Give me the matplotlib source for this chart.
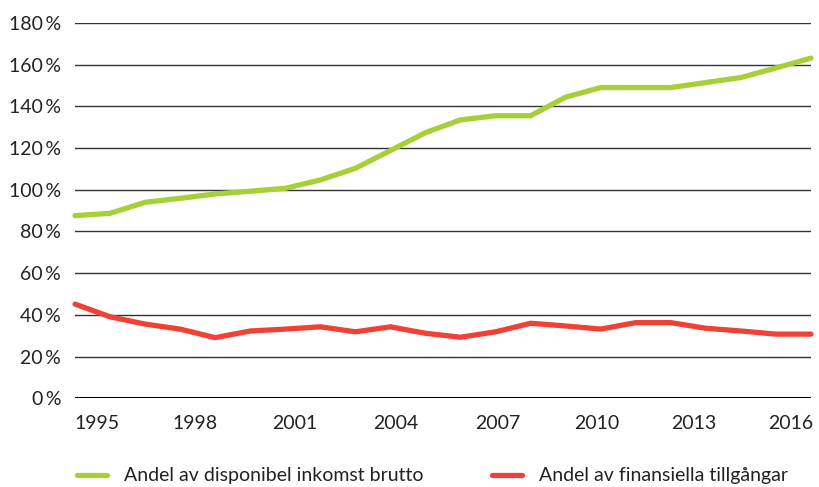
import matplotlib.pyplot as plt
import numpy as np

plt.rcParams['font.family'] = ['Lato', 'DejaVu Sans']

# Data
years = np.arange(1995, 2017)
disp_income = [87.6, 88.7, 94.0, 95.9, 98.0, 99.3, 100.7, 104.7, 110.3, 118.8, 127.4,
               133.5, 135.5, 135.5, 144.4, 149.0, 149.0, 149.0, 151.4, 153.8, 158.4, 163.1]
fin_assets = [45.2, 39.1, 35.6, 33.2, 29.1, 32.3, 33.2, 34.3, 31.9, 34.3, 31.2,
              29.3, 31.9, 36.0, 34.7, 33.2, 36.3, 36.3, 33.6, 32.3, 30.8, 30.8]
tick_labels = ['1995', '1998', '2001', '2004', '2007', '2010', '2013', '2016']
tick_pos = [1995.64, 1998.43, 2001.26, 2004.14, 2007.05, 2009.88, 2012.66, 2015.43]
yticks = [0, 20, 40, 60, 80, 100, 120, 140, 160, 180]

green = '#a6cf38'
red = '#ef4136'

fig = plt.figure(figsize=(8.2, 4.87), dpi=100)
ax = fig.add_axes([0.0915, 0.182, 0.8975, 0.771])

ax.plot(years, disp_income, color=green, lw=3.8, solid_capstyle='round',
        solid_joinstyle='round', clip_on=False, zorder=3,
        label='Andel av disponibel inkomst brutto')
ax.plot(years, fin_assets, color=red, lw=3.8, solid_capstyle='round',
        solid_joinstyle='round', clip_on=False, zorder=3,
        label='Andel av finansiella tillgångar')

ax.set_xlim(1995, 2016)
ax.set_ylim(0, 180)
ax.set_yticks(yticks)
ax.set_yticklabels([f'{v}\u2009%' for v in yticks])
ax.set_xticks(tick_pos)
ax.set_xticklabels(tick_labels)

for v in yticks[1:]:
    ax.axhline(v, color='#333333', lw=1.0, zorder=1)
ax.axhline(0, color='black', lw=2.2, zorder=2)

for s in ax.spines.values():
    s.set_visible(False)
ax.tick_params(axis='both', length=0, labelsize=14, colors='#222222')
ax.tick_params(axis='y', pad=10)
ax.tick_params(axis='x', pad=12)

fig.legend(loc='center left', bbox_to_anchor=(0.0939, 0.0226), ncol=2, frameon=False,
           fontsize=14, handlelength=1.55, handletextpad=0.88, columnspacing=3.5,
           borderpad=0, borderaxespad=0, labelcolor='#222222')

fig.savefig('out.png', dpi=100)
